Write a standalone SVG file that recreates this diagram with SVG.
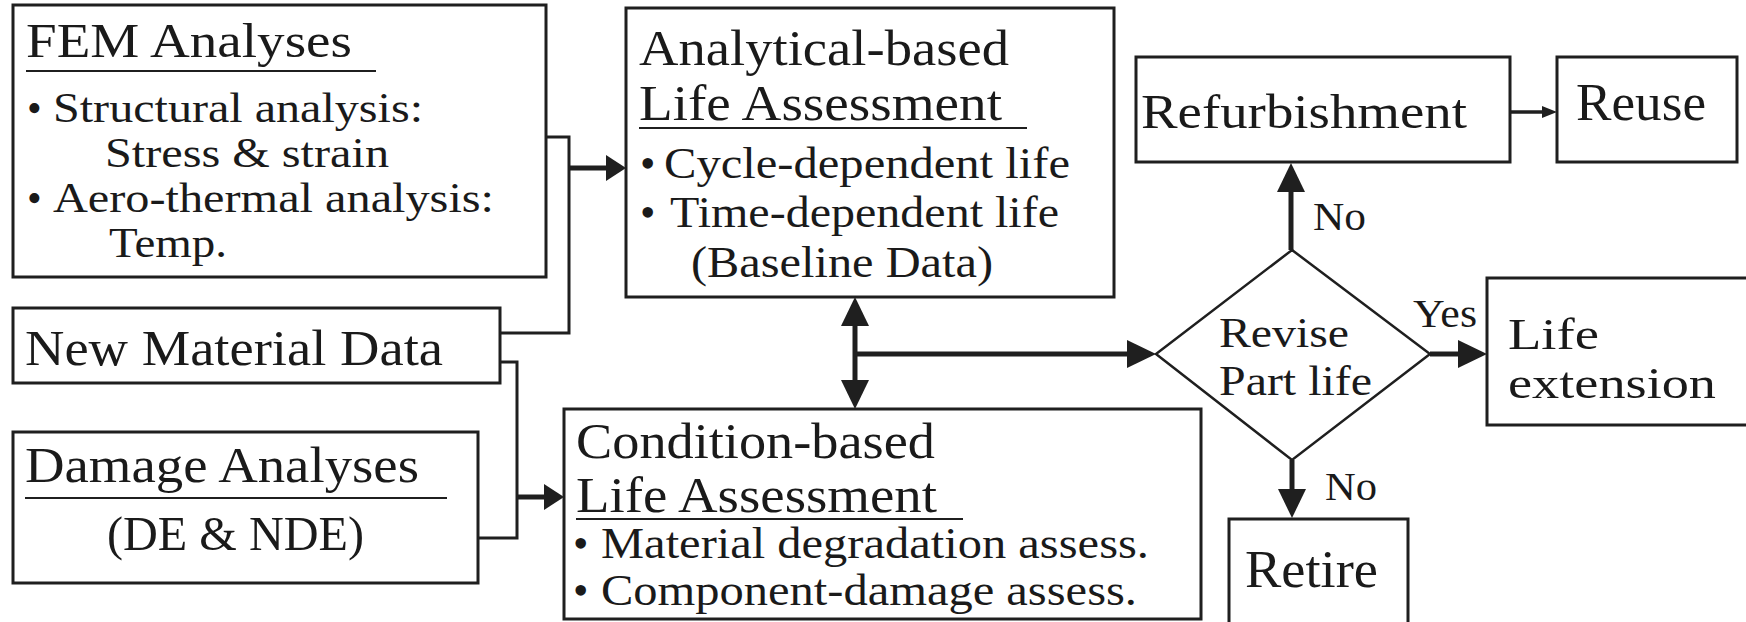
<svg xmlns="http://www.w3.org/2000/svg" width="1746" height="622" viewBox="0 0 1746 622">
  <style>
    .box { fill: #ffffff; stroke: #1f1f1f; stroke-width: 3; }
    .dia { fill: #ffffff; stroke: #1f1f1f; stroke-width: 2.5; }
    .t { font-family: "Liberation Serif", "Times New Roman", serif; fill: #1a1a1a; }
    .ul { stroke: #1f1f1f; stroke-width: 2; }
    .wire { fill: none; stroke: #1f1f1f; stroke-width: 3; }
    .flow { fill: none; stroke: #1f1f1f; stroke-width: 5; }
    .thin { fill: none; stroke: #1f1f1f; stroke-width: 3.5; }
  </style>
  <defs>
    <marker id="head" viewBox="0 -15 29 30" refX="0" refY="0" markerWidth="29" markerHeight="30" markerUnits="userSpaceOnUse" orient="auto-start-reverse">
      <path d="M0,-14 L29,0 L0,14 Z" fill="#1f1f1f"/>
    </marker>
    <marker id="head-s" viewBox="0 -14 20 28" refX="0" refY="0" markerWidth="20" markerHeight="28" markerUnits="userSpaceOnUse" orient="auto">
      <path d="M0,-13 L20,0 L0,13 Z" fill="#1f1f1f"/>
    </marker>
    <marker id="head-xs" viewBox="0 -7 15 14" refX="0" refY="0" markerWidth="15" markerHeight="14" markerUnits="userSpaceOnUse" orient="auto">
      <path d="M0,-6 L15,0 L0,6 Z" fill="#1f1f1f"/>
    </marker>
  </defs>

  <!-- connectors -->
  <g id="connectors">
    <!-- FEM and material data feed the analytical assessment -->
    <path class="wire" d="M546,137 H569 V333 H500"/>
    <path class="flow" d="M569,168 H606" marker-end="url(#head-s)"/>
    <!-- material data and damage analyses feed the condition assessment -->
    <path class="wire" d="M500,362 H517 V538 H478"/>
    <path class="flow" d="M517,497 H544" marker-end="url(#head-s)"/>
    <!-- link between the two assessments -->
    <path class="flow" d="M855,326 V380" marker-start="url(#head)" marker-end="url(#head)"/>
    <path class="flow" d="M855,354 H1127" marker-end="url(#head)"/>
    <!-- decision outcomes -->
    <path class="flow" d="M1291,250 V192" marker-end="url(#head)"/>
    <path class="flow" d="M1430,354 H1458" marker-end="url(#head)"/>
    <path class="flow" d="M1292,460 V489" marker-end="url(#head)"/>
    <path class="thin" d="M1510,112 H1542" marker-end="url(#head-xs)"/>
  </g>

  <!-- FEM analyses -->
  <g id="fem">
    <rect class="box" x="13" y="5" width="533" height="272"/>
    <text class="t" x="26" y="57" font-size="48" textLength="326" lengthAdjust="spacingAndGlyphs">FEM Analyses</text>
    <line class="ul" x1="26" y1="71" x2="376" y2="71"/>
    <text class="t" x="27" y="122" font-size="42">•</text>
    <text class="t" x="53" y="122" font-size="42" textLength="370" lengthAdjust="spacingAndGlyphs">Structural analysis:</text>
    <text class="t" x="105" y="167" font-size="42" textLength="284" lengthAdjust="spacingAndGlyphs">Stress &amp; strain</text>
    <text class="t" x="27" y="212" font-size="42">•</text>
    <text class="t" x="53" y="212" font-size="42" textLength="441" lengthAdjust="spacingAndGlyphs">Aero-thermal analysis:</text>
    <text class="t" x="109" y="257" font-size="42" textLength="118" lengthAdjust="spacingAndGlyphs">Temp.</text>
  </g>

  <!-- new material data -->
  <g id="material">
    <rect class="box" x="13" y="308" width="487" height="75"/>
    <text class="t" x="25" y="365" font-size="50" textLength="418" lengthAdjust="spacingAndGlyphs">New Material Data</text>
  </g>

  <!-- damage analyses -->
  <g id="damage">
    <rect class="box" x="13" y="432" width="465" height="151"/>
    <text class="t" x="25" y="482" font-size="50" textLength="394" lengthAdjust="spacingAndGlyphs">Damage Analyses</text>
    <line class="ul" x1="25" y1="498" x2="447" y2="498"/>
    <text class="t" x="107" y="550" font-size="48" textLength="257" lengthAdjust="spacingAndGlyphs">(DE &amp; NDE)</text>
  </g>

  <!-- analytical-based life assessment -->
  <g id="analytical">
    <rect class="box" x="626" y="8" width="488" height="289"/>
    <text class="t" x="639" y="65" font-size="50" textLength="370" lengthAdjust="spacingAndGlyphs">Analytical-based</text>
    <text class="t" x="639" y="120" font-size="50" textLength="363" lengthAdjust="spacingAndGlyphs">Life Assessment</text>
    <line class="ul" x1="639" y1="128" x2="1027" y2="128"/>
    <text class="t" x="640" y="178" font-size="44">•</text>
    <text class="t" x="664" y="178" font-size="44" textLength="406" lengthAdjust="spacingAndGlyphs">Cycle-dependent life</text>
    <text class="t" x="640" y="227" font-size="44">•</text>
    <text class="t" x="670" y="227" font-size="44" textLength="389" lengthAdjust="spacingAndGlyphs">Time-dependent life</text>
    <text class="t" x="691" y="277" font-size="44" textLength="302" lengthAdjust="spacingAndGlyphs">(Baseline Data)</text>
  </g>

  <!-- condition-based life assessment -->
  <g id="condition">
    <rect class="box" x="564" y="409" width="637" height="210"/>
    <text class="t" x="576" y="458" font-size="50" textLength="359" lengthAdjust="spacingAndGlyphs">Condition-based</text>
    <text class="t" x="576" y="512" font-size="50" textLength="361" lengthAdjust="spacingAndGlyphs">Life Assessment</text>
    <line class="ul" x1="576" y1="519" x2="963" y2="519"/>
    <text class="t" x="573" y="558" font-size="44">•</text>
    <text class="t" x="601" y="558" font-size="44" textLength="548" lengthAdjust="spacingAndGlyphs">Material degradation assess.</text>
    <text class="t" x="573" y="605" font-size="44">•</text>
    <text class="t" x="601" y="605" font-size="44" textLength="536" lengthAdjust="spacingAndGlyphs">Component-damage assess.</text>
  </g>

  <!-- decision -->
  <g id="decision">
    <polygon class="dia" points="1292,250 1430,354 1292,460 1156,354"/>
    <text class="t" x="1219" y="347" font-size="42" textLength="130" lengthAdjust="spacingAndGlyphs">Revise</text>
    <text class="t" x="1219" y="395" font-size="42" textLength="153" lengthAdjust="spacingAndGlyphs">Part life</text>
    <text class="t" x="1313" y="230" font-size="40" textLength="53" lengthAdjust="spacingAndGlyphs">No</text>
    <text class="t" x="1413" y="327" font-size="40" textLength="64" lengthAdjust="spacingAndGlyphs">Yes</text>
    <text class="t" x="1325" y="500" font-size="40" textLength="52" lengthAdjust="spacingAndGlyphs">No</text>
  </g>

  <!-- refurbishment -->
  <g id="refurbishment">
    <rect class="box" x="1136" y="57" width="374" height="105"/>
    <text class="t" x="1141" y="128" font-size="48" textLength="326" lengthAdjust="spacingAndGlyphs">Refurbishment</text>
  </g>

  <!-- reuse -->
  <g id="reuse">
    <rect class="box" x="1557" y="57" width="180" height="105"/>
    <text class="t" x="1576" y="120" font-size="52" textLength="130" lengthAdjust="spacingAndGlyphs">Reuse</text>
  </g>

  <!-- life extension -->
  <g id="extension">
    <rect class="box" x="1487" y="278" width="265" height="147"/>
    <text class="t" x="1508" y="349" font-size="45" textLength="91" lengthAdjust="spacingAndGlyphs">Life</text>
    <text class="t" x="1508" y="398" font-size="45" textLength="208" lengthAdjust="spacingAndGlyphs">extension</text>
  </g>

  <!-- retire -->
  <g id="retire">
    <rect class="box" x="1229" y="519" width="179" height="110"/>
    <text class="t" x="1245" y="587" font-size="52" textLength="133" lengthAdjust="spacingAndGlyphs">Retire</text>
  </g>
</svg>
